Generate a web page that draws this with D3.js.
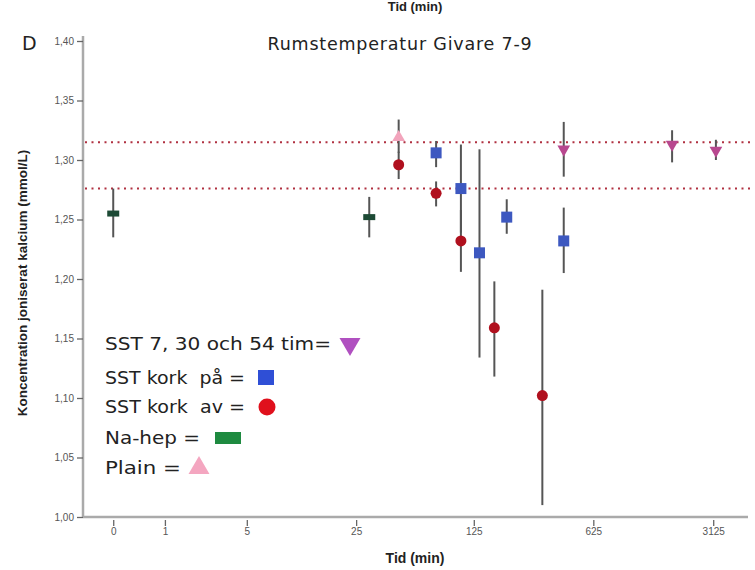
<!DOCTYPE html>
<meta charset="utf-8">
<head>
<script src="https://d3js.org/d3.v7.min.js"></script>
<style>
  body { margin: 0; background: #fff; }
  text { font-family: "DejaVu Sans", Verdana, sans-serif; }
  .tick text { font-family: Arial, "Liberation Sans", sans-serif; font-size: 10px; fill: #555; }
  .bold { font-family: Arial, "Liberation Sans", sans-serif; font-weight: bold; fill: #222; }
</style>
</head>
<body>
<svg id="chart" width="755" height="570"></svg>

<script>
// x ticks (minutes) and y ticks
var xTicks = [0, 1, 5, 25, 125, 625, 3125];
var yTicks = [1.00, 1.05, 1.10, 1.15, 1.20, 1.25, 1.30, 1.35, 1.40];
var refLines = [1.315, 1.276];

// Na-hep
var naHepTime = [0, 30];
var naHepMean = [1.255, 1.252];
var naHepLow  = [1.235, 1.235];
var naHepHigh = [1.276, 1.269];

// Plain
var plainTime = [45];
var plainMean = [1.319];
var plainLow  = [1.306];
var plainHigh = [1.334];

// SST kork av
var avTime = [45, 75, 105, 165, 315];
var avMean = [1.296, 1.272, 1.232, 1.159, 1.102];
var avLow  = [1.284, 1.261, 1.206, 1.118, 1.010];
var avHigh = [1.307, 1.282, 1.258, 1.198, 1.191];

// SST kork på
var paTime = [75, 105, 135, 195, 420];
var paMean = [1.306, 1.276, 1.222, 1.252, 1.232];
var paLow  = [1.294, 1.239, 1.134, 1.238, 1.205];
var paHigh = [1.316, 1.313, 1.309, 1.267, 1.260];

// SST 7, 30 och 54 tim
var sstTime = [420, 1800, 3240];
var sstMean = [1.309, 1.313, 1.308];
var sstLow  = [1.286, 1.298, 1.300];
var sstHigh = [1.332, 1.325, 1.317];

var svg = d3.select("#chart");

var x = d3.scaleSymlog().constant(1)
  .domain([-0.5, 4984])
  .range([83, 748]);

var y = d3.scaleLinear()
  .domain([1.0, 1.4])
  .range([517, 41]);

var comma = function(d) { return d3.format(".2f")(d).replace(".", ","); };

// axes
var xAxis = svg.append("g")
  .attr("transform", "translate(0,517)")
  .call(d3.axisBottom(x).tickValues(xTicks).tickFormat(d3.format("d")).tickSize(6).tickPadding(5));
xAxis.select(".domain").attr("stroke", "#aaa").attr("stroke-width", 2.5).attr("d", "M83,0H748");
xAxis.selectAll(".tick line").attr("stroke", "#666").attr("stroke-width", 1.3).attr("y1", 3).attr("y2", 9);

var yAxis = svg.append("g")
  .attr("transform", "translate(83,0)")
  .call(d3.axisLeft(y).tickValues(yTicks).tickFormat(comma).tickSize(6).tickPadding(3));
yAxis.select(".domain").attr("stroke", "#aaa").attr("stroke-width", 2.5).attr("d", "M0,36V518");
yAxis.selectAll(".tick line").attr("stroke", "#666").attr("stroke-width", 1.3);

// reference lines
svg.selectAll(".ref")
  .data(refLines)
  .enter().append("line")
  .attr("x1", 85).attr("x2", 750)
  .attr("y1", function(d) { return y(d); })
  .attr("y2", function(d) { return y(d); })
  .attr("stroke", "#b03040")
  .attr("stroke-width", 2)
  .attr("stroke-dasharray", "2,4.5");

// build series
function rows(t, m, lo, hi) {
  return t.map(function(d, i) { return { t: d, m: m[i], lo: lo[i], hi: hi[i] }; });
}
var series = [
  { key: "nahep", data: rows(naHepTime, naHepMean, naHepLow, naHepHigh) },
  { key: "plain", data: rows(plainTime, plainMean, plainLow, plainHigh) },
  { key: "av",    data: rows(avTime, avMean, avLow, avHigh) },
  { key: "pa",    data: rows(paTime, paMean, paLow, paHigh) },
  { key: "sst",   data: rows(sstTime, sstMean, sstLow, sstHigh) }
];

// error bars
series.forEach(function(s) {
  svg.append("g").selectAll("line")
    .data(s.data)
    .enter().append("line")
    .attr("x1", function(d) { return x(d.t); })
    .attr("x2", function(d) { return x(d.t); })
    .attr("y1", function(d) { return y(d.hi); })
    .attr("y2", function(d) { return y(d.lo); })
    .attr("stroke", "#555")
    .attr("stroke-width", 2);
});

// markers
var sym = {
  nahep: function(g) { g.append("rect").attr("x", -6).attr("y", -3).attr("width", 12).attr("height", 6).attr("fill", "#1d4a35"); },
  plain: function(g) { g.append("path").attr("d", d3.symbol(d3.symbolTriangle, 70)).attr("fill", "#f2a4bc"); },
  av:    function(g) { g.append("circle").attr("r", 5.5).attr("fill", "#b0101e"); },
  pa:    function(g) { g.append("rect").attr("x", -5.5).attr("y", -5.5).attr("width", 11).attr("height", 11).attr("fill", "#3d58c0"); },
  sst:   function(g) { g.append("path").attr("d", d3.symbol(d3.symbolTriangle, 70)).attr("transform", "rotate(180)").attr("fill", "#b8488f"); }
};

series.forEach(function(s) {
  svg.append("g").selectAll("g")
    .data(s.data)
    .enter().append("g")
    .attr("transform", function(d) { return "translate(" + x(d.t) + "," + y(d.m) + ")"; })
    .each(function() { sym[s.key](d3.select(this)); });
});

// titles
svg.append("text").attr("class", "bold").attr("x", 415).attr("y", 11)
  .attr("text-anchor", "middle").attr("font-size", 13).text("Tid (min)");
svg.append("text").attr("x", 22).attr("y", 50).attr("font-size", 19).attr("fill", "#222").text("D");
svg.append("text").attr("x", 400).attr("y", 50).attr("text-anchor", "middle")
  .attr("font-size", 17.5).attr("letter-spacing", 0.8).attr("fill", "#222").text("Rumstemperatur Givare 7-9");
svg.append("text").attr("class", "bold").attr("x", 415).attr("y", 563)
  .attr("text-anchor", "middle").attr("font-size", 14).text("Tid (min)");
svg.append("text").attr("class", "bold")
  .attr("transform", "translate(27,283) rotate(-90)")
  .attr("text-anchor", "middle").attr("font-size", 13.5)
  .text("Koncentration joniserat kalcium (mmol/L)");

// legend
var legendLabels = ["SST 7, 30 och 54 tim=", "SST kork  på =", "SST kork  av =", "Na-hep =", "Plain ="];
var legendWidth = [226, 140, 140, 95, 76];
var legendY = [350, 384, 413, 444, 474];
var legendSymX = [350, 266, 267, 228, 199];
var legendKeys = ["sst", "pa", "av", "nahep", "plain"];

var leg = svg.append("g");
leg.selectAll("text")
  .data(legendLabels)
  .enter().append("text")
  .attr("x", 105)
  .attr("y", function(d, i) { return legendY[i]; })
  .attr("font-size", 18.5)
  .attr("fill", "#222")
  .attr("textLength", function(d, i) { return legendWidth[i]; })
  .attr("lengthAdjust", "spacingAndGlyphs")
  .style("white-space", "pre")
  .text(function(d) { return d; });

var legSym = {
  sst:   function(g) { g.append("path").attr("d", d3.symbol(d3.symbolTriangle, 190)).attr("transform", "rotate(180)").attr("fill", "#b050c0"); },
  pa:    function(g) { g.append("rect").attr("x", -8).attr("y", -8).attr("width", 16).attr("height", 15).attr("fill", "#2f4fd6"); },
  av:    function(g) { g.append("circle").attr("r", 8.5).attr("fill", "#e0101c"); },
  nahep: function(g) { g.append("rect").attr("x", -13).attr("y", -6).attr("width", 26).attr("height", 12).attr("fill", "#1e8a40"); },
  plain: function(g) { g.append("path").attr("d", d3.symbol(d3.symbolTriangle, 190)).attr("fill", "#f4a6c0"); }
};
leg.selectAll("g")
  .data(legendKeys)
  .enter().append("g")
  .attr("transform", function(d, i) { return "translate(" + legendSymX[i] + "," + (legendY[i] - 6) + ")"; })
  .each(function(d) { legSym[d](d3.select(this)); });
</script>
</body>
